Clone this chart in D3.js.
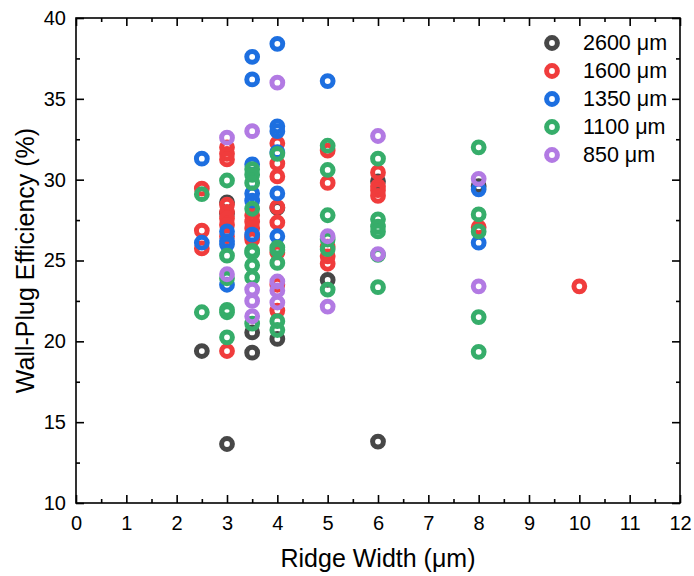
<!DOCTYPE html>
<html>
<head>
<meta charset="utf-8">
<script src="https://cdn.jsdelivr.net/npm/d3@7"></script>
<style>
  html, body { margin: 0; padding: 0; background: #fff; }
  svg { display: block; font-family: "Liberation Sans", Arial, sans-serif; }
</style>
</head>
<body>
<svg id="chart" width="694" height="576"></svg>
<script>
// ---- Data ----
const seriesNames = ["2600 μm", "1600 μm", "1350 μm", "1100 μm", "850 μm"];
const seriesColors = ["#474747", "#f03c3c", "#1d6fe0", "#36ad6a", "#b27ae3"];

const x2600 = [2.5, 3, 3, 3, 3.5, 3.5, 4, 4, 5, 6, 6, 8];
const y2600 = [19.4, 28.6, 27.9, 13.65, 20.55, 19.3, 28.25, 20.15, 23.8, 29.9, 13.8, 29.6];

const x1600 = [2.5, 2.5, 2.5,
  3, 3, 3, 3, 3, 3, 3, 3, 3,
  3.5, 3.5, 3.5, 3.5, 3.5,
  4, 4, 4, 4, 4, 4, 4, 4,
  5, 5, 5, 5, 5,
  6, 6, 6, 6,
  8, 10];
const y1600 = [29.45, 26.85, 25.75,
  32.0, 31.6, 31.25, 28.45, 28.0, 27.6, 27.2, 26.5, 19.4,
  27.8, 27.4, 27.0, 26.5, 26.3,
  32.25, 31.0, 30.2, 28.3, 27.35, 25.5, 23.5, 21.9,
  31.8, 29.8, 25.85, 25.25, 24.8,
  30.45, 29.6, 29.35, 29.0,
  27.05, 23.4];

const x1350 = [2.5, 2.5, 3, 3, 3, 3, 3.5, 3.5, 3.5, 3.5, 3.5, 3.5, 4, 4, 4, 4, 4, 4, 5, 8, 8];
const y1350 = [31.3, 26.1, 26.8, 26.2, 26.0, 23.5, 37.6, 36.2, 30.95, 29.15, 28.7, 26.6, 38.4, 33.3, 33.0, 31.7, 29.15, 26.5, 36.1, 29.4, 26.1];

const x1100 = [2.5, 2.5,
  3, 3, 3, 3, 3, 3,
  3.5, 3.5, 3.5, 3.5, 3.5, 3.5, 3.5, 3.5, 3.5,
  4, 4, 4, 4, 4, 4,
  5, 5, 5, 5, 5, 5,
  6, 6, 6, 6, 6, 6,
  8, 8, 8, 8, 8];
const y1100 = [29.1, 21.8,
  29.95, 25.3, 23.9, 21.95, 21.8, 20.25,
  30.65, 30.3, 29.8, 28.2, 25.6, 25.5, 24.7, 23.95, 21.1,
  31.6, 25.8, 25.65, 24.85, 21.25, 20.7,
  32.1, 30.6, 27.8, 26.3, 25.7, 23.2,
  31.3, 27.55, 27.1, 26.8, 25.35, 23.35,
  32.0, 27.85, 26.8, 21.5, 19.35];

const x850 = [3, 3, 3.5, 3.5, 3.5, 3.5, 4, 4, 4, 4, 5, 5, 6, 6, 8, 8];
const y850 = [32.6, 24.15, 33.0, 23.2, 22.5, 21.55, 36.0, 23.7, 23.15, 22.4, 26.5, 22.15, 32.7, 25.4, 30.05, 23.4];

const xTicks = [0, 1, 2, 3, 4, 5, 6, 7, 8, 9, 10, 11, 12];
const yTicks = [10, 15, 20, 25, 30, 35, 40];
const xLabel = "Ridge Width (μm)";
const yLabel = "Wall-Plug Efficiency (%)";

const seriesX = [x2600, x1600, x1350, x1100, x850];
const seriesY = [y2600, y1600, y1350, y1100, y850];

// ---- Layout ----
const W = 694, H = 576;
const margin = { left: 76, right: 14, top: 18, bottom: 73 };
const plotW = W - margin.left - margin.right;
const plotH = H - margin.top - margin.bottom;

const svg = d3.select("#chart");
const g = svg.append("g").attr("transform", `translate(${margin.left},${margin.top})`);

const x = d3.scaleLinear().domain([0, 12]).range([0, plotW]);
const y = d3.scaleLinear().domain([10, 40]).range([plotH, 0]);

const majorLen = 8, minorLen = 4, axisW = 1.6;
const xMinor = d3.range(0.5, 12, 1);
const yMinor = d3.range(12.5, 40, 5);
const tickFont = 20;

function styleAxis(sel) {
  sel.select(".domain").remove();
  sel.selectAll("line").attr("stroke", "#000").attr("stroke-width", axisW);
  sel.selectAll("text").attr("fill", "#000");
}

// bottom
g.append("g").attr("transform", `translate(0,${plotH})`)
  .call(d3.axisBottom(x).tickValues(xTicks).tickSize(-majorLen).tickPadding(13).tickFormat(d3.format("d")))
  .call(styleAxis)
  .call(s => s.selectAll("text").attr("font-size", tickFont).attr("font-family", "Liberation Sans, Arial, sans-serif"));
g.append("g").attr("transform", `translate(0,${plotH})`)
  .call(d3.axisBottom(x).tickValues(xMinor).tickSize(-minorLen).tickFormat(""))
  .call(styleAxis);
// top
g.append("g")
  .call(d3.axisTop(x).tickValues(xTicks).tickSize(-majorLen).tickFormat(""))
  .call(styleAxis);
g.append("g")
  .call(d3.axisTop(x).tickValues(xMinor).tickSize(-minorLen).tickFormat(""))
  .call(styleAxis);
// left
g.append("g")
  .call(d3.axisLeft(y).tickValues(yTicks).tickSize(-majorLen).tickPadding(10).tickFormat(d3.format("d")))
  .call(styleAxis)
  .call(s => s.selectAll("text").attr("font-size", tickFont).attr("font-family", "Liberation Sans, Arial, sans-serif"));
g.append("g")
  .call(d3.axisLeft(y).tickValues(yMinor).tickSize(-minorLen).tickFormat(""))
  .call(styleAxis);
// right
g.append("g").attr("transform", `translate(${plotW},0)`)
  .call(d3.axisRight(y).tickValues(yTicks).tickSize(-majorLen).tickFormat(""))
  .call(styleAxis);
g.append("g").attr("transform", `translate(${plotW},0)`)
  .call(d3.axisRight(y).tickValues(yMinor).tickSize(-minorLen).tickFormat(""))
  .call(styleAxis);

// frame
g.append("rect").attr("x", 0).attr("y", 0).attr("width", plotW).attr("height", plotH)
  .attr("fill", "none").attr("stroke", "#000").attr("stroke-width", axisW);

// points
const ringR = 5.4, ringW = 5;
seriesX.forEach((xs, i) => {
  const pts = xs.map((xv, j) => [xv, seriesY[i][j]]);
  g.append("g").selectAll("circle").data(pts).join("circle")
    .attr("cx", d => x(d[0])).attr("cy", d => y(d[1])).attr("r", ringR)
    .attr("fill", "none").attr("stroke", seriesColors[i]).attr("stroke-width", ringW);
});

// axis titles
svg.append("text").attr("x", margin.left + plotW / 2).attr("y", 567)
  .attr("text-anchor", "middle").attr("font-size", 25).text(xLabel);
svg.append("text").attr("transform", `translate(34,${margin.top + plotH / 2}) rotate(-90)`)
  .attr("text-anchor", "middle").attr("font-size", 25).text(yLabel);

// legend
const legend = svg.append("g");
seriesNames.forEach((name, i) => {
  const cy = 43 + i * 28;
  legend.append("circle").attr("cx", 552).attr("cy", cy).attr("r", ringR)
    .attr("fill", "none").attr("stroke", seriesColors[i]).attr("stroke-width", ringW);
  legend.append("text").attr("x", 583).attr("y", cy + 7).attr("font-size", 21.5).text(name);
});
</script>
</body>
</html>
